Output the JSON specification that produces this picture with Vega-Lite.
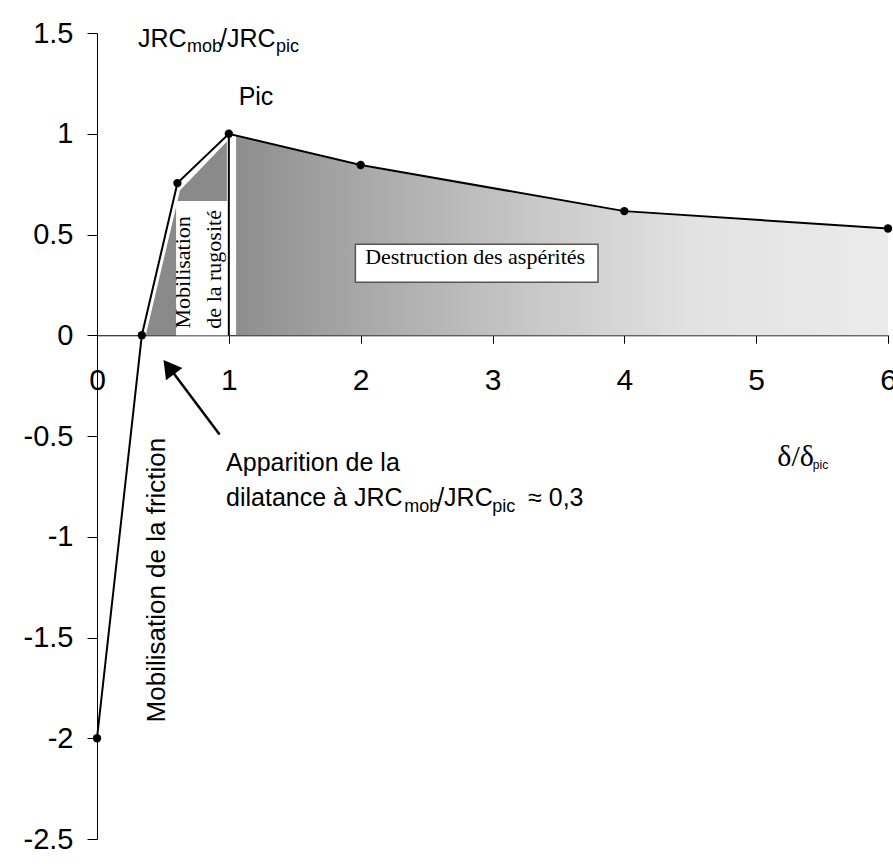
{
  "$schema": "https://vega.github.io/schema/vega-lite/v6.json",
  "width": 791,
  "height": 806,
  "autosize": {"type": "none"},
  "padding": {"left": 97, "top": 33, "right": 5, "bottom": 25},
  "background": "white",
  "config": {"view": {"stroke": null}},
  "datasets": {
    "main": [
      {"x": 0, "y": -2},
      {"x": 0.34, "y": 0},
      {"x": 0.61, "y": 0.755},
      {"x": 1, "y": 1},
      {"x": 2, "y": 0.845},
      {"x": 4, "y": 0.616},
      {"x": 6, "y": 0.53}
    ],
    "shadeRight": [
      {"x": 1.055, "y": 0.99},
      {"x": 2, "y": 0.84},
      {"x": 4, "y": 0.612},
      {"x": 6, "y": 0.526}
    ],
    "shadeLeft": [
      {"x": 0.37, "y": 0},
      {"x": 0.63, "y": 0.72},
      {"x": 0.985, "y": 0.962}
    ],
    "boxes": [
      {"name": "rugosite", "x": 0.6, "x2": 0.995, "y": 0, "y2": 0.666},
      {"name": "destruction", "x": 1.96, "x2": 3.8, "y": 0.263, "y2": 0.451}
    ],
    "peak": [{"x": 1, "y": 0, "y2": 1}],
    "arrow": [
      {"x": 0.93, "y": -0.493},
      {"x": 0.56, "y": -0.17}
    ],
    "arrowHead": [{"x": 0.545, "y": -0.158}],
    "labelsSans": [
      {"text": "JRC", "x": 0.311, "y": 1.433},
      {"text": "/JRC", "x": 0.933, "y": 1.433},
      {"text": "Apparition de la", "x": 0.979, "y": -0.675},
      {"text": "dilatance à JRC", "x": 0.979, "y": -0.848},
      {"text": "/JRC", "x": 2.58, "y": -0.848},
      {"text": "≈ 0,3", "x": 3.27, "y": -0.848}
    ],
    "labelsSub": [
      {"text": "mob", "x": 0.683, "y": 1.405},
      {"text": "pic", "x": 1.358, "y": 1.405},
      {"text": "mob", "x": 2.33, "y": -0.878},
      {"text": "pic", "x": 2.998, "y": -0.878}
    ],
    "labelPic": [{"text": "Pic", "x": 1.206, "y": 1.145}],
    "labelFriction": [{"text": "Mobilisation de la friction", "x": 0.455, "y": -1.215}],
    "labelRugosite": [
      {"text": "Mobilisation", "x": 0.652, "y": 0.312},
      {"text": "de la rugosité", "x": 0.888, "y": 0.327}
    ],
    "labelDestruction": [{"text": "Destruction des aspérités", "x": 2.868, "y": 0.352}],
    "labelDelta": [{"text": "δ/δ", "x": 5.16, "y": -0.65}],
    "labelDeltaSub": [{"text": "pic", "x": 5.43, "y": -0.664}]
  },
  "encoding": {
    "x": {
      "field": "x",
      "type": "quantitative",
      "scale": {"domain": [0, 6], "nice": false, "zero": false},
      "axis": {
        "values": [0, 1, 2, 3, 4, 5, 6],
        "title": null,
        "offset": -503.75,
        "grid": false,
        "domainColor": "black",
        "domainWidth": 1,
        "tickColor": "black",
        "tickSize": 8,
        "labelFont": "Liberation Sans",
        "labelFontSize": 30,
        "labelColor": "black",
        "labelPadding": 22,
        "labelFlush": false,
        "labelOverlap": false,
        "labelExpr": "'' + datum.value"
      }
    },
    "y": {
      "field": "y",
      "type": "quantitative",
      "scale": {"domain": [-2.5, 1.5], "nice": false, "zero": false},
      "axis": {
        "values": [-2.5, -2, -1.5, -1, -0.5, 0, 0.5, 1, 1.5],
        "title": null,
        "grid": false,
        "domainColor": "black",
        "domainWidth": 1,
        "tickColor": "black",
        "tickSize": 10,
        "labelFont": "Liberation Sans",
        "labelFontSize": 29,
        "labelColor": "black",
        "labelPadding": 14,
        "labelFlush": false,
        "labelOverlap": false,
        "labelExpr": "'' + datum.value"
      }
    }
  },
  "layer": [
    {
      "data": {"name": "shadeRight"},
      "mark": {
        "type": "area",
        "fill": {
          "gradient": "linear",
          "x1": 0, "y1": 0, "x2": 1, "y2": 0,
          "stops": [
            {"offset": 0, "color": "#8e8e8e"},
            {"offset": 0.2, "color": "#a9a9a9"},
            {"offset": 0.5, "color": "#cdcdcd"},
            {"offset": 0.7, "color": "#e2e2e2"},
            {"offset": 1, "color": "#ebebeb"}
          ]
        }
      },
      "encoding": {"y2": {"datum": 0}}
    },
    {
      "data": {"name": "shadeLeft"},
      "mark": {"type": "area", "fill": "#8a8a8a"},
      "encoding": {"y2": {"datum": 0}}
    },
    {
      "data": {"name": "boxes"},
      "mark": {"type": "rect", "fill": "white", "stroke": "#555555", "strokeWidth": 1.5},
      "encoding": {
        "x2": {"field": "x2"},
        "y2": {"field": "y2"},
        "strokeOpacity": {"condition": {"test": "datum.name === 'destruction'", "value": 1}, "value": 0}
      }
    },
    {
      "data": {"name": "peak"},
      "mark": {"type": "rule", "color": "black", "strokeWidth": 2},
      "encoding": {"y2": {"field": "y2"}}
    },
    {
      "data": {"name": "main"},
      "mark": {"type": "line", "color": "black", "strokeWidth": 2}
    },
    {
      "data": {"name": "main"},
      "mark": {"type": "point", "filled": true, "color": "black", "size": 70, "opacity": 1}
    },
    {
      "data": {"name": "arrow"},
      "mark": {"type": "line", "color": "black", "strokeWidth": 2.5}
    },
    {
      "data": {"name": "arrowHead"},
      "mark": {"type": "point", "shape": "triangle-up", "filled": true, "color": "black", "size": 420, "angle": 323, "opacity": 1}
    },
    {
      "data": {"name": "labelsSans"},
      "mark": {"type": "text", "font": "Liberation Sans", "fontSize": 25, "align": "left", "baseline": "alphabetic", "color": "black"},
      "encoding": {"text": {"field": "text"}}
    },
    {
      "data": {"name": "labelsSub"},
      "mark": {"type": "text", "font": "Liberation Sans", "fontSize": 18, "align": "left", "baseline": "alphabetic", "color": "black"},
      "encoding": {"text": {"field": "text"}}
    },
    {
      "data": {"name": "labelPic"},
      "mark": {"type": "text", "font": "Liberation Sans", "fontSize": 25, "align": "center", "baseline": "alphabetic", "color": "black"},
      "encoding": {"text": {"field": "text"}}
    },
    {
      "data": {"name": "labelFriction"},
      "mark": {"type": "text", "font": "Liberation Sans", "fontSize": 26, "align": "center", "baseline": "middle", "angle": 270, "color": "black"},
      "encoding": {"text": {"field": "text"}}
    },
    {
      "data": {"name": "labelRugosite"},
      "mark": {"type": "text", "font": "Liberation Serif", "fontSize": 22, "align": "center", "baseline": "middle", "angle": 270, "color": "black"},
      "encoding": {"text": {"field": "text"}}
    },
    {
      "data": {"name": "labelDestruction"},
      "mark": {"type": "text", "font": "Liberation Serif", "fontSize": 22, "align": "center", "baseline": "alphabetic", "color": "black"},
      "encoding": {"text": {"field": "text"}}
    },
    {
      "data": {"name": "labelDelta"},
      "mark": {"type": "text", "font": "Liberation Serif", "fontSize": 30, "align": "left", "baseline": "alphabetic", "color": "black"},
      "encoding": {"text": {"field": "text"}}
    },
    {
      "data": {"name": "labelDeltaSub"},
      "mark": {"type": "text", "font": "Liberation Sans", "fontSize": 12, "align": "left", "baseline": "alphabetic", "color": "black"},
      "encoding": {"text": {"field": "text"}}
    }
  ]
}
